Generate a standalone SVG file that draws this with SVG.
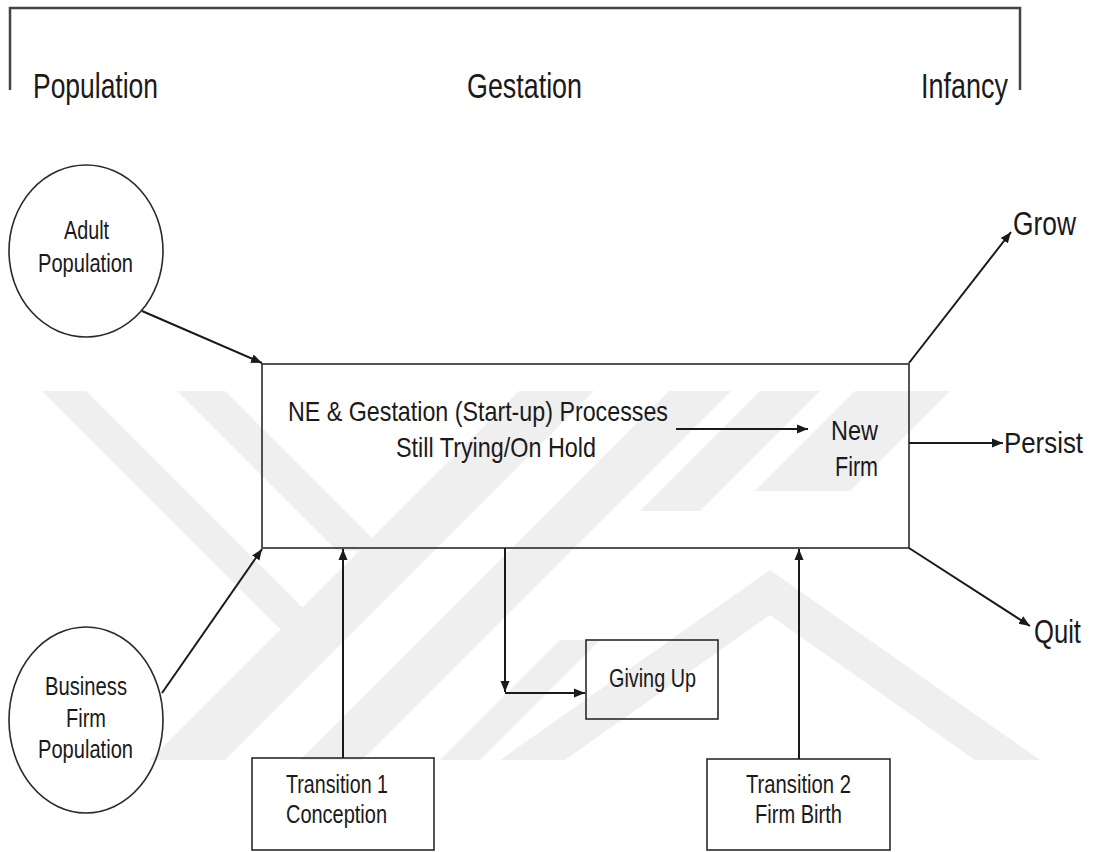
<svg xmlns="http://www.w3.org/2000/svg" width="1094" height="852" viewBox="0 0 1094 852">
  <style>
    .lbl { font-family: "Liberation Sans", Arial, Helvetica, sans-serif; fill: #1a1a1a; }
    .t36 { font-size: 35px; }
    .t32 { font-size: 33px; }
    .t29 { font-size: 29px; }
    .t28 { font-size: 28px; }
    .t25 { font-size: 25px; }
    .shape { fill: none; stroke: #2a2a2a; stroke-width: 1.6; }
    .conn { fill: none; stroke: #1a1a1a; stroke-width: 2; }
    .wm { fill: #efefef; }
  </style>
  <defs>
    <marker id="arrow" markerUnits="userSpaceOnUse" markerWidth="12" markerHeight="10" refX="11" refY="5" orient="auto">
      <path d="M0,0.5 L11,5 L0,9.5 z" fill="#1a1a1a"/>
    </marker>
    <clipPath id="wmClip">
      <rect x="0" y="390" width="1094" height="370"/>
    </clipPath>
  </defs>

  <rect width="1094" height="852" fill="#ffffff"/>

  <!-- faint background mark -->
  <g id="watermark" clip-path="url(#wmClip)">
    <polygon class="wm" points="42,391 86,391 336,641 292,641"/>
    <polygon class="wm" points="177,391 225,391 385,551 337,551"/>
    <polygon class="wm" points="150,760 225,760 594,391 519,391"/>
    <polygon class="wm" points="300,760 362,760 731,391 669,391"/>
    <polygon class="wm" points="440,760 480,760 600,640 560,640"/>
    <polygon class="wm" points="760,391 820,391 700,511 640,511"/>
    <polygon class="wm" points="855,391 950,391 850,491 755,491"/>
    <polygon class="wm" points="500,760 770,570 1040,760 975,760 770,615 565,760"/>
  </g>

  <!-- phase bracket -->
  <g id="bracket">
    <polyline points="10,90 10,8 1020,8 1020,90" fill="none" stroke="#444" stroke-width="2.5"/>
    <text class="lbl t36" x="33" y="98" textLength="125" lengthAdjust="spacingAndGlyphs">Population</text>
    <text class="lbl t36" x="467" y="98" textLength="115" lengthAdjust="spacingAndGlyphs">Gestation</text>
    <text class="lbl t36" x="921" y="98" textLength="87" lengthAdjust="spacingAndGlyphs">Infancy</text>
  </g>

  <g id="adult-population">
    <ellipse class="shape" cx="86" cy="251" rx="77" ry="86"/>
    <text class="lbl t25" x="64" y="239" textLength="45" lengthAdjust="spacingAndGlyphs">Adult</text>
    <text class="lbl t25" x="38" y="272" textLength="95" lengthAdjust="spacingAndGlyphs">Population</text>
  </g>

  <g id="business-firm-population">
    <ellipse class="shape" cx="86" cy="720" rx="77" ry="93"/>
    <text class="lbl t25" x="45" y="695" textLength="82" lengthAdjust="spacingAndGlyphs">Business</text>
    <text class="lbl t25" x="66" y="727" textLength="40" lengthAdjust="spacingAndGlyphs">Firm</text>
    <text class="lbl t25" x="38" y="758" textLength="95" lengthAdjust="spacingAndGlyphs">Population</text>
  </g>

  <g id="gestation-processes">
    <rect class="shape" x="262" y="364" width="647" height="184"/>
    <text class="lbl t28" x="288" y="421" textLength="380" lengthAdjust="spacingAndGlyphs">NE &amp; Gestation (Start-up) Processes</text>
    <text class="lbl t28" x="396" y="457" textLength="200" lengthAdjust="spacingAndGlyphs">Still Trying/On Hold</text>
    <text class="lbl t28" x="831" y="440" textLength="47" lengthAdjust="spacingAndGlyphs">New</text>
    <text class="lbl t28" x="835" y="476" textLength="43" lengthAdjust="spacingAndGlyphs">Firm</text>
  </g>

  <g id="giving-up">
    <rect class="shape" x="586" y="640" width="132" height="79"/>
    <text class="lbl t25" x="609" y="687" textLength="87" lengthAdjust="spacingAndGlyphs">Giving Up</text>
  </g>

  <g id="transition-1">
    <rect class="shape" x="252" y="758" width="182" height="92"/>
    <text class="lbl t25" x="286" y="793" textLength="102" lengthAdjust="spacingAndGlyphs">Transition 1</text>
    <text class="lbl t25" x="286" y="823" textLength="101" lengthAdjust="spacingAndGlyphs">Conception</text>
  </g>

  <g id="transition-2">
    <rect class="shape" x="707" y="759" width="183" height="91"/>
    <text class="lbl t25" x="746" y="793" textLength="105" lengthAdjust="spacingAndGlyphs">Transition 2</text>
    <text class="lbl t25" x="755" y="823" textLength="87" lengthAdjust="spacingAndGlyphs">Firm Birth</text>
  </g>

  <g id="outcome-grow">
    <text class="lbl t32" x="1013" y="235" textLength="63" lengthAdjust="spacingAndGlyphs">Grow</text>
  </g>
  <g id="outcome-persist">
    <text class="lbl t29" x="1004" y="453" textLength="79" lengthAdjust="spacingAndGlyphs">Persist</text>
  </g>
  <g id="outcome-quit">
    <text class="lbl t32" x="1034" y="643" textLength="47" lengthAdjust="spacingAndGlyphs">Quit</text>
  </g>

  <g id="connectors">
    <line class="conn" x1="142" y1="311" x2="262" y2="363" marker-end="url(#arrow)"/>
    <line class="conn" x1="162" y1="693" x2="262" y2="549" marker-end="url(#arrow)"/>
    <line class="conn" x1="343" y1="758" x2="343" y2="549" marker-end="url(#arrow)"/>
    <line class="conn" x1="799" y1="759" x2="799" y2="549" marker-end="url(#arrow)"/>
    <line class="conn" x1="505" y1="548" x2="505" y2="692" marker-end="url(#arrow)"/>
    <line class="conn" x1="505" y1="693" x2="585" y2="693" marker-end="url(#arrow)"/>
    <line class="conn" x1="676" y1="429" x2="808" y2="429" marker-end="url(#arrow)"/>
    <line class="conn" x1="909" y1="363" x2="1011" y2="232" marker-end="url(#arrow)"/>
    <line class="conn" x1="909" y1="443" x2="1003" y2="443" marker-end="url(#arrow)"/>
    <line class="conn" x1="909" y1="548" x2="1030" y2="626" marker-end="url(#arrow)"/>
  </g>
</svg>
